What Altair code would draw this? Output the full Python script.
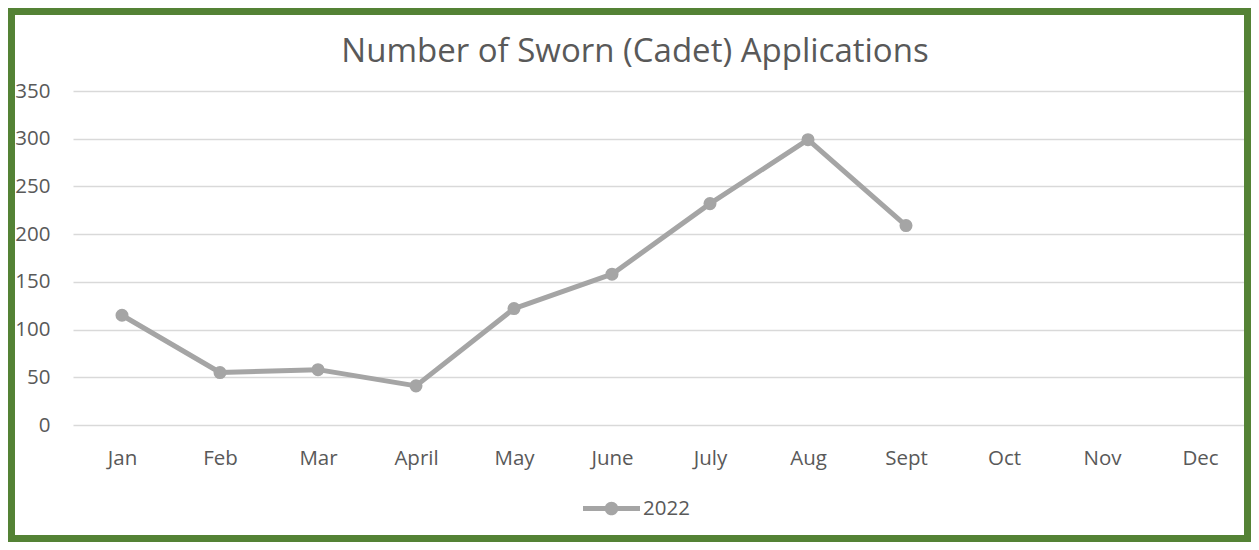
import altair as alt
import pandas as pd

months = ["Jan", "Feb", "Mar", "April", "May", "June", "July", "Aug", "Sept", "Oct", "Nov", "Dec"]
values_2022 = [115, 55, 58, 41, 122, 158, 232, 299, 209, None, None, None]
series_name = "2022"
title_text = "Number of Sworn (Cadet) Applications"

df = pd.DataFrame({"month": months, "value": values_2022, "series": [series_name] * len(months)})

LINE = "#A5A5A5"
GREEN = "#548235"
TEXT = "#595959"
FONT = "Open Sans"

W, H = 1176, 334
PL, PT, PR, PB = 65, 83, 2, 117

legend_path = ("M-1,-0.09 L1,-0.09 L1,0.09 L-1,0.09 Z "
               "M-0.24,0 A0.24,0.24 0 1,1 0.24,0 A0.24,0.24 0 1,1 -0.24,0 Z")

x = alt.X("month:N", sort=months,
          scale=alt.Scale(domain=months, type="point", padding=0.5),
          axis=alt.Axis(title=None, labelAngle=0, domain=False, ticks=False, tickSize=0,
                        labelPadding=23, labelFontSize=20.5, labelColor=TEXT, labelFont=FONT,
                        grid=False))
y = alt.Y("value:Q",
          scale=alt.Scale(domain=[0, 350], nice=False),
          axis=alt.Axis(title=None, values=[0, 50, 100, 150, 200, 250, 300, 350],
                        domain=False, ticks=False, tickSize=0, labelPadding=23,
                        labelFontSize=20.5, labelColor=TEXT, labelFont=FONT,
                        grid=True, gridColor="#D9D9D9", gridWidth=1.5))

line = alt.Chart(df).mark_line(color=LINE, strokeWidth=5, strokeCap="round", strokeJoin="round").encode(
    x=x, y=y
)

points = alt.Chart(df).mark_point(filled=True, opacity=1, size=170).encode(
    x=x, y=y,
    color=alt.Color("series:N",
                    scale=alt.Scale(domain=[series_name], range=[LINE]),
                    legend=alt.Legend(title=None, orient="none", legendX=510, legendY=389,
                                      symbolType=legend_path, symbolSize=3249,
                                      symbolFillColor=LINE, symbolStrokeWidth=0,
                                      symbolOpacity=1, padding=0, labelOffset=3,
                                      labelFontSize=20.5, labelColor=TEXT, labelFont=FONT))
)

border = alt.Chart(alt.Data(values=[{"k": 1}])).mark_rect(
    filled=False, stroke=GREEN, strokeWidth=7, clip=False
).encode(
    x=alt.value(-PL + 3.5), x2=alt.value(W + PR - 3.5),
    y=alt.value(-PT + 3.5), y2=alt.value(H + PB - 3.5)
)

title = alt.Chart(alt.Data(values=[{"t": title_text}])).mark_text(
    font=FONT, fontSize=33, color=TEXT, align="center", baseline="alphabetic", clip=False
).encode(
    text="t:N", x=alt.value(562), y=alt.value(-29)
)

chart = alt.layer(border, line, points, title).properties(
    width=W, height=H,
    padding={"left": PL, "top": PT, "right": PR, "bottom": PB},
    autosize=alt.AutoSizeParams(type="none"),
    background="white",
).configure_view(stroke=None)

chart.save("out.html", embed_options={"renderer": "svg", "actions": False})
